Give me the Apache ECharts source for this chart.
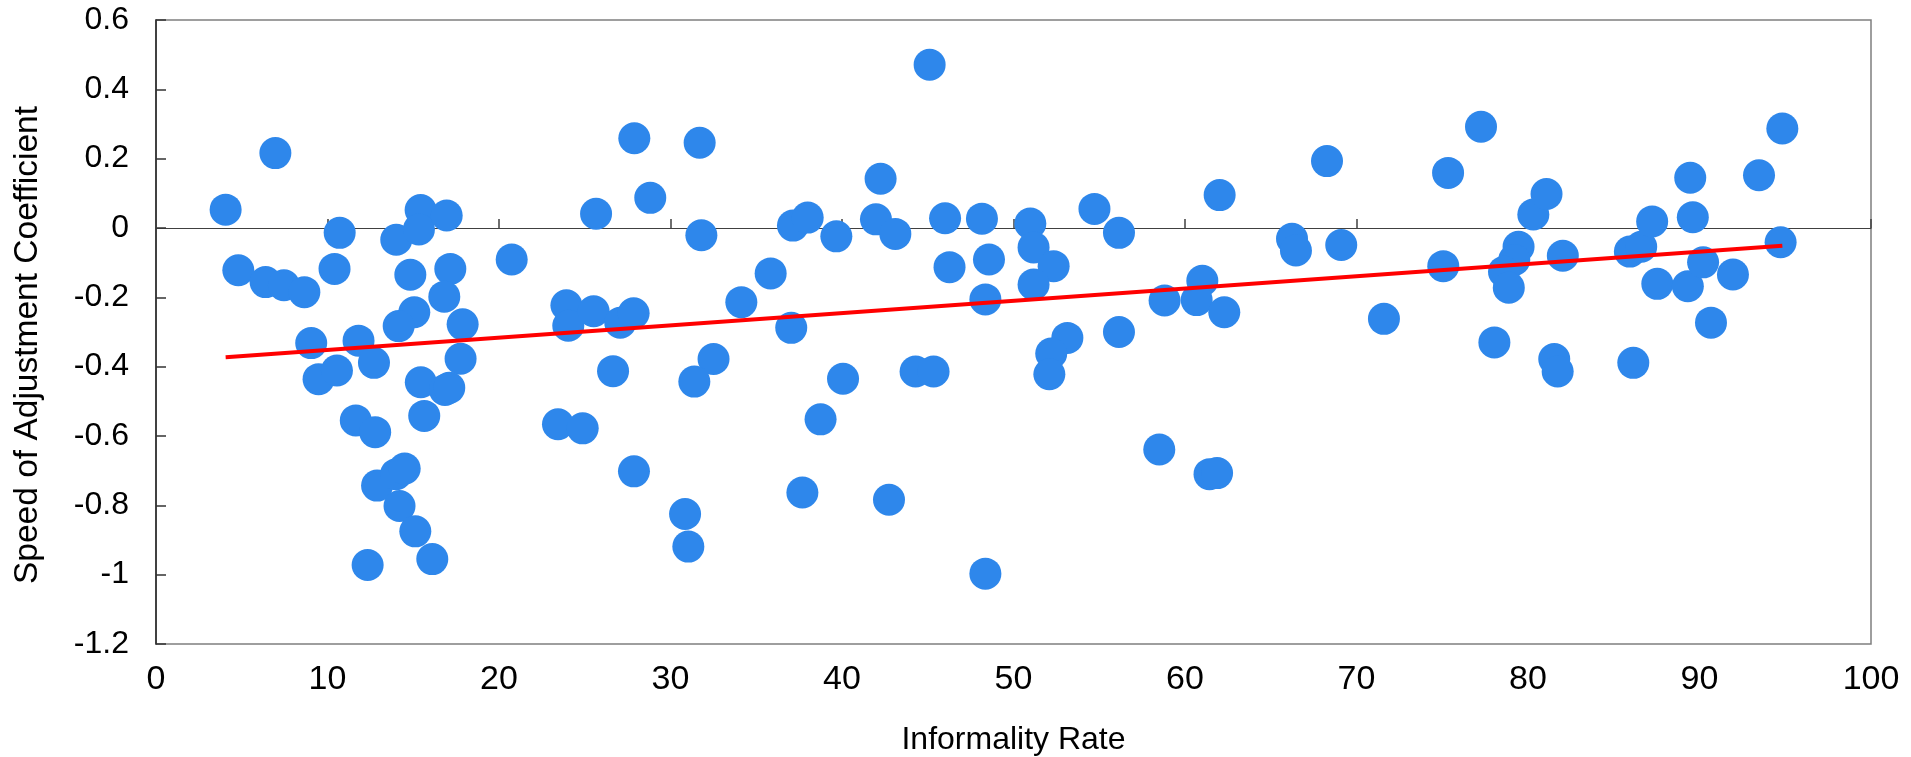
<!DOCTYPE html>
<html>
<head>
<meta charset="utf-8">
<script src="https://cdn.jsdelivr.net/npm/echarts@6/dist/echarts.min.js"></script>
<style>
html,body{margin:0;padding:0;background:#fff;}
#c{width:1911px;height:757px;}
</style>
</head>
<body>
<div id="c"></div>
<script>
// Informality rate (x) and speed of adjustment coefficient (y)
const informality = [
  4.06, 6.96, 4.80, 6.39, 7.46, 8.65, 10.71, 10.41, 9.05, 9.48,
  10.55, 11.81, 12.71, 11.65, 12.78, 12.34, 12.89, 14.00, 14.50, 14.20,
  15.12, 16.11, 14.01, 15.43, 15.33, 14.83, 15.06, 14.15, 15.44, 15.64,
  16.95, 17.16, 16.81, 17.88, 17.76, 16.85, 17.10, 20.74, 25.66, 27.89,
  28.82, 31.70, 31.80, 23.93, 24.04, 25.52, 27.07, 27.85, 26.65, 32.51,
  31.39, 23.44, 24.88, 27.87, 30.85, 31.04, 45.11, 42.25, 37.14, 38.00,
  39.67, 41.98, 43.11, 46.01, 48.16, 35.84, 34.13, 37.04, 46.27, 48.57,
  48.36, 40.06, 38.75, 44.29, 45.34, 37.69, 42.74, 48.36, 50.98, 51.17,
  52.34, 51.17, 54.72, 56.15, 62.02, 53.14, 52.20, 52.09, 56.15, 58.81,
  61.01, 60.68, 62.29, 58.50, 61.43, 61.87, 66.24, 66.47, 69.11, 68.28,
  71.60, 75.34, 75.06, 77.26, 78.04, 79.45, 79.20, 78.60, 78.88, 80.31,
  81.08, 82.03, 81.53, 81.73, 85.94, 86.60, 87.24, 86.14, 87.54, 89.46,
  89.61, 89.32, 90.21, 90.67, 91.95, 93.47, 94.83, 94.73
];
const speedCoef = [
  0.053, 0.216, -0.122, -0.156, -0.165, -0.185, -0.014, -0.118, -0.332, -0.436,
  -0.411, -0.325, -0.389, -0.555, -0.589, -0.972, -0.743, -0.710, -0.694, -0.802,
  -0.875, -0.955, -0.034, 0.052, -0.004, -0.135, -0.243, -0.283, -0.445, -0.542,
  0.036, -0.118, -0.198, -0.278, -0.377, -0.467, -0.461, -0.091, 0.041, 0.259,
  0.087, 0.246, -0.021, -0.223, -0.282, -0.240, -0.273, -0.246, -0.413, -0.378,
  -0.443, -0.566, -0.578, -0.702, -0.825, -0.919, 0.471, 0.142, 0.007, 0.030,
  -0.024, 0.025, -0.017, 0.028, 0.027, -0.131, -0.214, -0.288, -0.113, -0.091,
  -0.206, -0.435, -0.552, -0.414, -0.414, -0.763, -0.784, -0.997, 0.013, -0.056,
  -0.110, -0.163, 0.055, -0.014, 0.095, -0.317, -0.362, -0.422, -0.300, -0.209,
  -0.152, -0.208, -0.243, -0.639, -0.710, -0.707, -0.031, -0.065, -0.049, 0.193,
  -0.262, 0.159, -0.110, 0.292, -0.330, -0.054, -0.092, -0.126, -0.172, 0.039,
  0.098, -0.080, -0.378, -0.414, -0.068, -0.054, 0.019, -0.389, -0.161, 0.145,
  0.031, -0.168, -0.099, -0.273, -0.134, 0.152, 0.287, -0.041
];
// Linear trend line end points (x, y)
const trendX = [4.06, 94.83];
const trendY = [-0.373, -0.051];

const xTicks = {min: 0, max: 100, interval: 10};
const yTicks = {min: -1.2, max: 0.6, interval: 0.2};

const points = informality.map((x, i) => [x, speedCoef[i]]);
const trend = trendX.map((x, i) => [x, trendY[i]]);

const FONT = "'Liberation Sans', Arial, sans-serif";
const chart = echarts.init(document.getElementById('c'), null, {renderer: 'canvas'});
chart.setOption({
  animation: false,
  backgroundColor: '#ffffff',
  grid: {
    left: 156, right: 40, top: 20, bottom: 113,
    show: true, borderColor: '#7f7f7f', borderWidth: 1.5,
    containLabel: false, outerBoundsMode: 'none'
  },
  xAxis: [
    {
      type: 'value', min: xTicks.min, max: xTicks.max, interval: xTicks.interval,
      position: 'bottom',
      name: 'Informality Rate', nameLocation: 'middle', nameGap: 80,
      nameTextStyle: {fontFamily: FONT, fontSize: 32, color: '#000'},
      axisLine: {show: false, onZero: false},
      axisTick: {show: false},
      axisLabel: {fontFamily: FONT, fontSize: 34, color: '#000', margin: 19},
      splitLine: {show: false}
    },
    {
      type: 'value', min: xTicks.min, max: xTicks.max, interval: xTicks.interval,
      position: 'bottom',
      axisLine: {show: true, onZero: true, lineStyle: {color: '#404040', width: 1.2}},
      axisTick: {show: true, inside: true, length: 9, lineStyle: {color: '#404040', width: 1.5}},
      axisLabel: {show: false},
      splitLine: {show: false}
    }
  ],
  yAxis: {
    type: 'value', min: yTicks.min, max: yTicks.max, interval: yTicks.interval,
    name: 'Speed of Adjustment Coefficient', nameLocation: 'middle', nameGap: 111,
    nameTextStyle: {fontFamily: FONT, fontSize: 33.5, color: '#000', padding: [0, 26, 0, 0]},
    axisLine: {show: true, onZero: false, lineStyle: {color: '#222', width: 1.5}},
    axisTick: {show: true, inside: true, length: 10, lineStyle: {color: '#333', width: 1.5}},
    axisLabel: {
      fontFamily: FONT, fontSize: 32, color: '#000', margin: 27,
      formatter: v => String(Math.round(v * 10) / 10)
    },
    splitLine: {show: false}
  },
  series: [
    {
      type: 'scatter', xAxisIndex: 0, data: points,
      symbol: 'circle', symbolSize: 32,
      itemStyle: {color: '#2e87eb', opacity: 1},
      z: 2
    },
    {
      type: 'line', xAxisIndex: 0, data: trend,
      symbol: 'none', lineStyle: {color: '#ff0000', width: 4},
      z: 3
    }
  ]
});
</script>
</body>
</html>
